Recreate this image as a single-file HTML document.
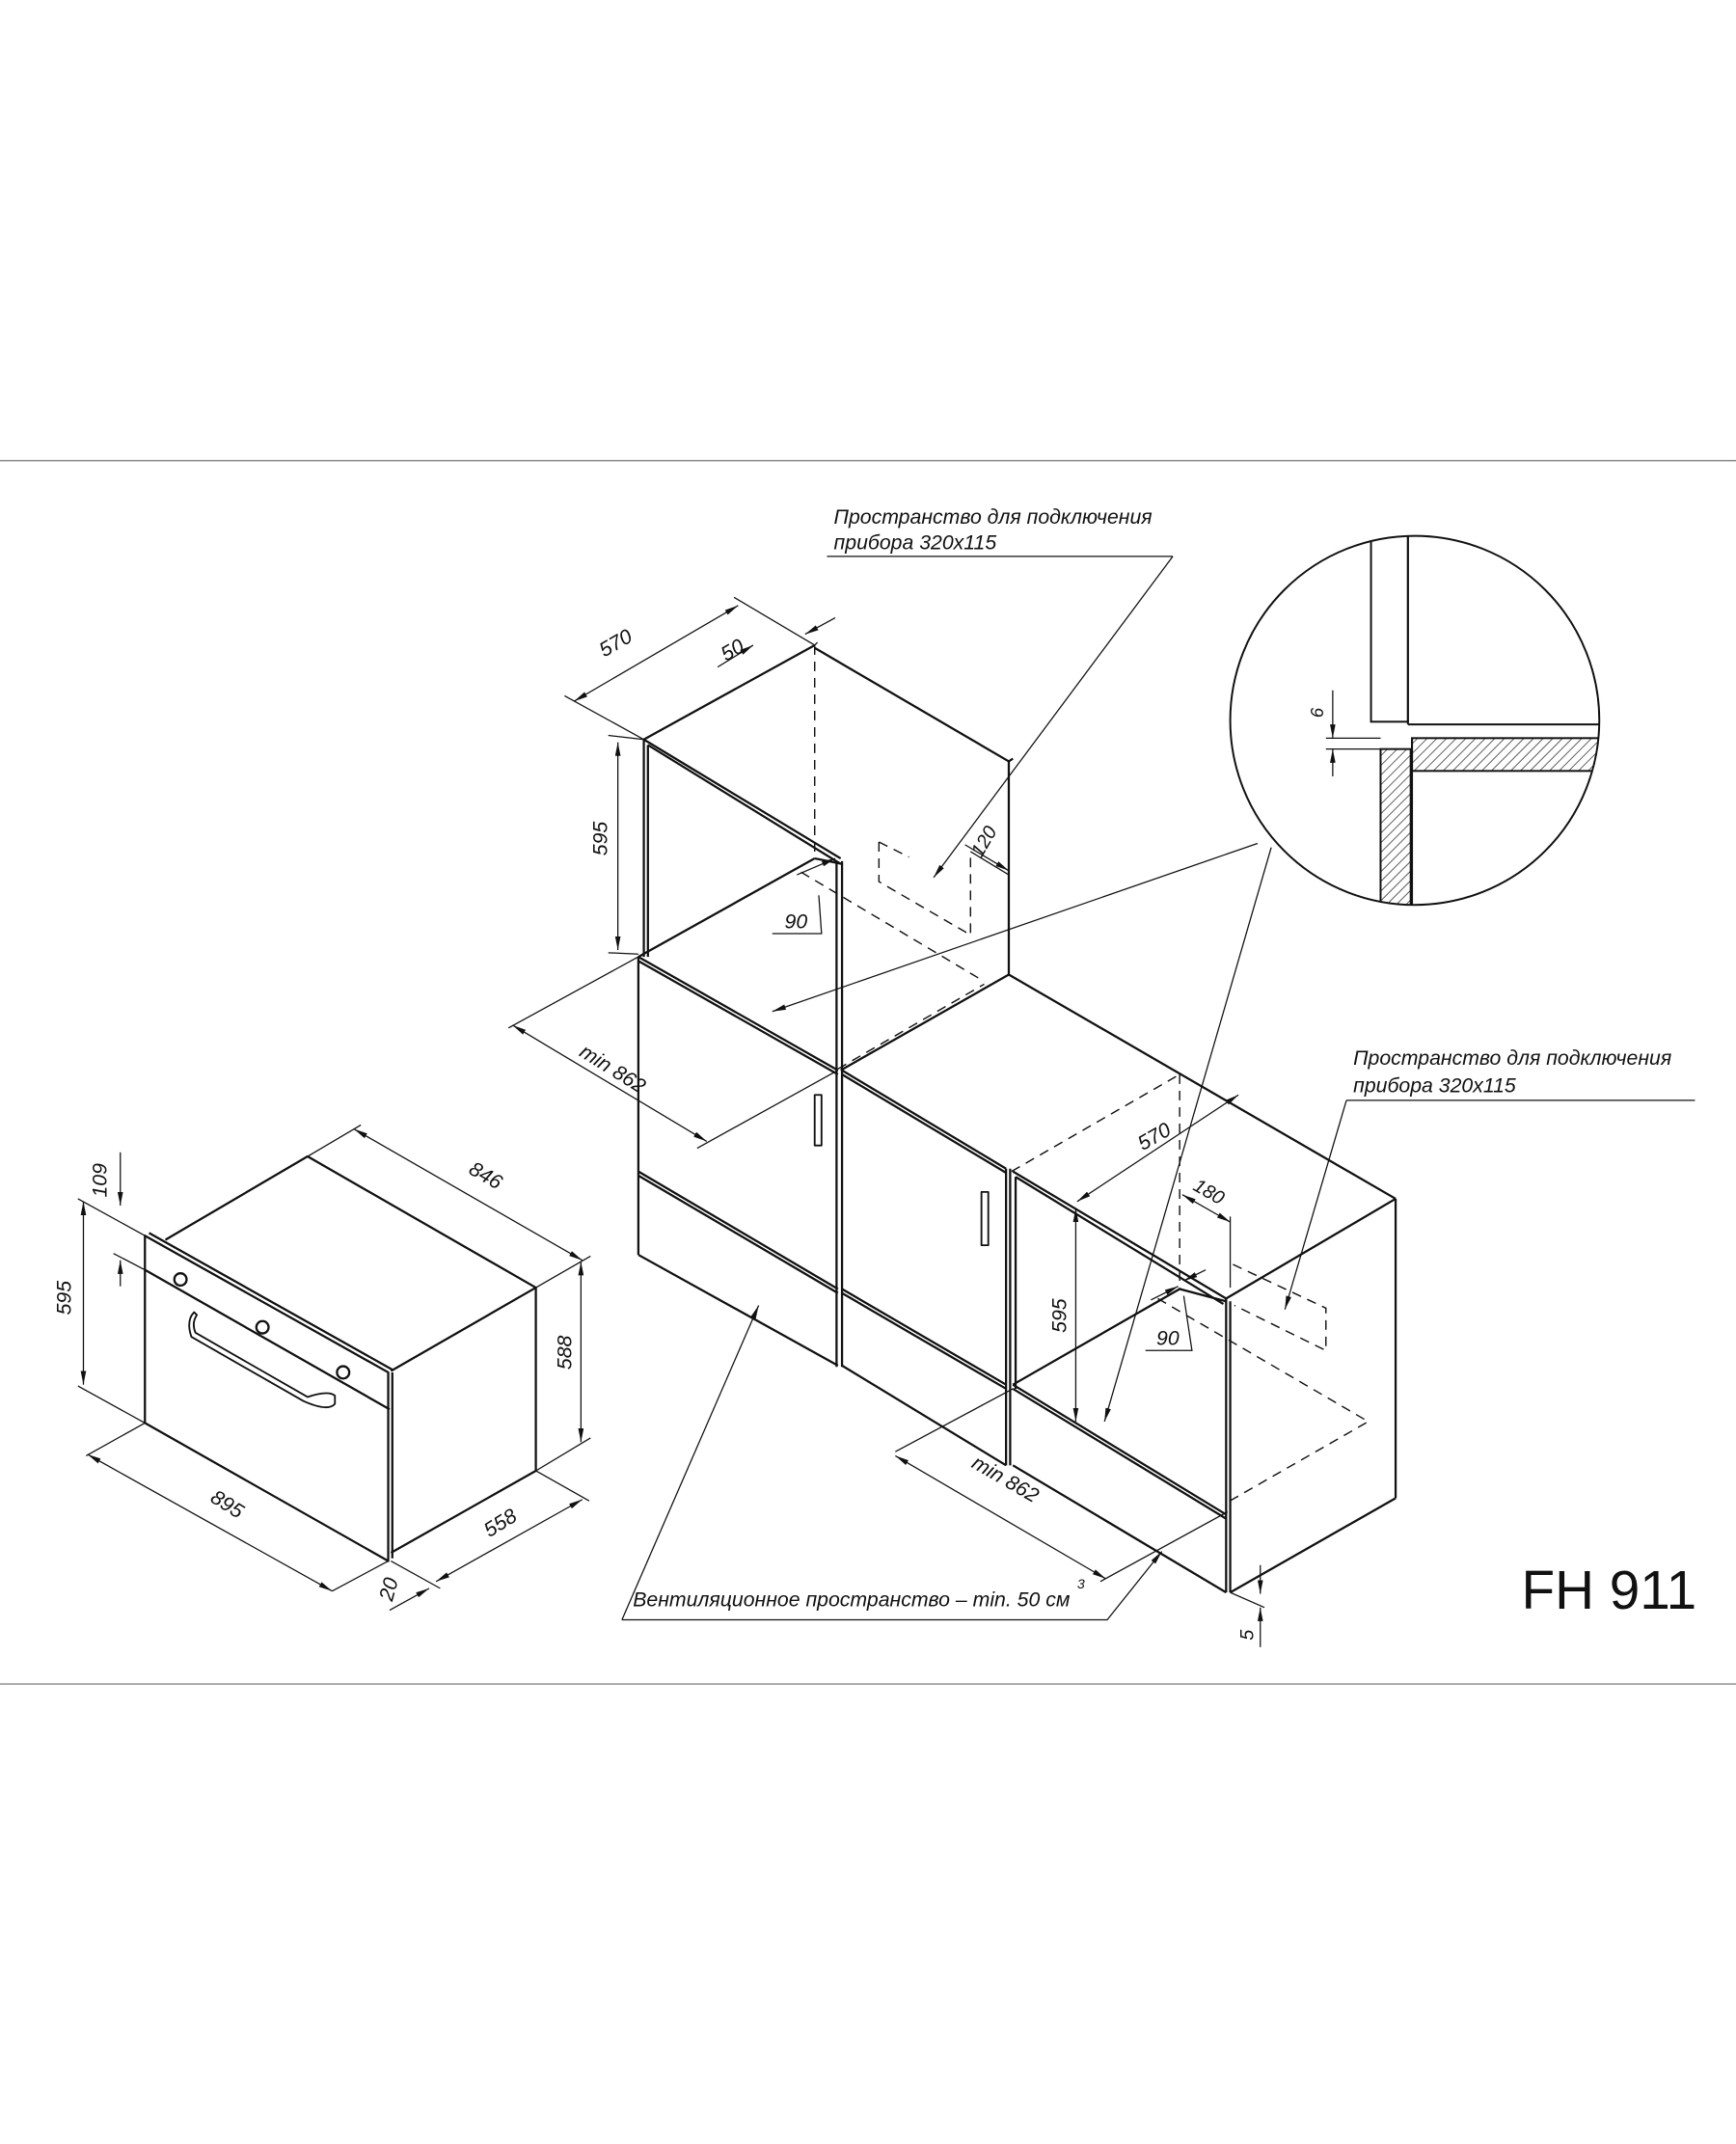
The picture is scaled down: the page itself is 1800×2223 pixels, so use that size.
<!DOCTYPE html>
<html><head><meta charset="utf-8"><style>
html,body{margin:0;padding:0;background:#fff}
svg{display:block}
text{font-family:"Liberation Sans Narrow","Liberation Sans",sans-serif;font-style:italic;fill:#111}
</style></head><body>
<svg width="1800" height="2223" viewBox="0 0 1270 1568.5" xmlns="http://www.w3.org/2000/svg">
<defs>
<marker id="a" viewBox="0 0 10 4" refX="10" refY="2" markerWidth="10" markerHeight="4" markerUnits="userSpaceOnUse" orient="auto-start-reverse"><path d="M0,0 L10,2 L0,4 z" fill="#111"/></marker>
<pattern id="h" width="5" height="5" patternUnits="userSpaceOnUse" patternTransform="rotate(45)"><line x1="0" y1="0" x2="0" y2="5" stroke="#222" stroke-width="1"/></pattern>
<clipPath id="cc"><circle cx="1035" cy="527" r="135"/></clipPath>
</defs>
<rect width="1270" height="1568.5" fill="#fff"/>
<line x1="0" y1="337" x2="1270" y2="337" stroke="#888" stroke-width="1"/>
<line x1="0" y1="1232" x2="1270" y2="1232" stroke="#888" stroke-width="1"/>

<!-- LEFT OVEN -->
<g fill="none" stroke="#111" stroke-width="1.6" stroke-linejoin="round">
<path d="M106,904 L106,1041 L284,1142 L284,1004 Z"/>
<line x1="109" y1="902" x2="287" y2="1002"/>
<line x1="287" y1="1004" x2="287" y2="1140"/>
<line x1="106" y1="929" x2="285" y2="1031"/>
<path d="M121,907 L225,846 L392,942 L286,1003"/>
<path d="M392,942 L392,1076 L286,1136"/>
<circle cx="132" cy="936" r="4.5"/><circle cx="192" cy="971" r="4.5"/><circle cx="251" cy="1004" r="4.5"/>
<path d="M142,960 Q136,966 140,978 L222,1025 Q240,1033 245,1027 L245,1021 Q240,1017 225,1022 L143,975 Q140,968 144,962 Z" stroke-width="1.3"/>
</g>
<g fill="none" stroke="#111" stroke-width="0.9">
<line x1="225" y1="846" x2="264" y2="823"/><line x1="392" y1="942" x2="432" y2="919"/>
<line x1="259" y1="826" x2="426" y2="922" marker-start="url(#a)" marker-end="url(#a)"/>
<line x1="392" y1="1076" x2="432" y2="1052"/>
<line x1="425" y1="923" x2="425" y2="1055" marker-start="url(#a)" marker-end="url(#a)"/>
<line x1="392" y1="1076" x2="431" y2="1098"/><line x1="286" y1="1142" x2="322" y2="1162"/>
<line x1="319" y1="1157" x2="426" y2="1097" marker-start="url(#a)" marker-end="url(#a)"/>
<line x1="285" y1="1178" x2="314" y2="1162" marker-end="url(#a)"/>
<line x1="106" y1="1041" x2="63" y2="1065"/><line x1="284" y1="1142" x2="243" y2="1164"/>
<line x1="64" y1="1064" x2="243" y2="1164" marker-start="url(#a)" marker-end="url(#a)"/>
<line x1="57" y1="877" x2="106" y2="904"/><line x1="57" y1="1014" x2="106" y2="1041"/>
<line x1="61" y1="879" x2="61" y2="1013" marker-start="url(#a)" marker-end="url(#a)"/>
<line x1="83" y1="917" x2="106" y2="929"/>
<line x1="88" y1="843" x2="88" y2="882" marker-end="url(#a)"/>
<line x1="88" y1="941" x2="88" y2="922" marker-end="url(#a)"/>
</g>
<text x="0" y="0" font-size="15" transform="translate(342,858) rotate(30)">846</text>
<text x="0" y="0" font-size="15" transform="translate(418,1002) rotate(-90)">588</text>
<text x="0" y="0" font-size="15" transform="translate(358,1125) rotate(-32)">558</text>
<text x="0" y="0" font-size="15" transform="translate(287,1172) rotate(-75)">20</text>
<text x="0" y="0" font-size="15" transform="translate(153,1098) rotate(32)">895</text>
<text x="0" y="0" font-size="15" transform="translate(52,962) rotate(-90)">595</text>
<text x="0" y="0" font-size="15" transform="translate(78,876) rotate(-90)">109</text>

<!-- CABINETS -->
<g fill="none" stroke="#111" stroke-width="1.6" stroke-linejoin="round">
<!-- upper box -->
<path d="M471,541 L596,472"/>
<path d="M596,474 L738,557 L741,555"/>
<line x1="738" y1="557" x2="738" y2="713"/>
<line x1="471" y1="541" x2="615" y2="628"/><line x1="474" y1="545" x2="615" y2="632"/>
<line x1="471" y1="541" x2="471" y2="700"/><line x1="474" y1="545" x2="474" y2="700"/>
<line x1="612" y1="630" x2="612" y2="1000"/><line x1="616" y1="630" x2="616" y2="1000"/>
<line x1="467" y1="700" x2="596" y2="628"/>
<line x1="596" y1="628" x2="616" y2="632"/>
<line x1="615" y1="783" x2="738" y2="713"/>
<line x1="738" y1="713" x2="1021" y2="877"/>
<!-- lower left cabinet -->
<line x1="467" y1="700" x2="613" y2="783"/><line x1="467" y1="703" x2="613" y2="786"/>
<line x1="467" y1="700" x2="467" y2="918"/>
<line x1="467" y1="857" x2="613" y2="943"/><line x1="467" y1="860" x2="613" y2="946"/>
<line x1="467" y1="918" x2="613" y2="999"/>
<rect x="596" y="801" width="5" height="37" stroke-width="1.3"/>
<!-- middle cabinet -->
<line x1="616" y1="783" x2="736" y2="855"/><line x1="616" y1="786" x2="736" y2="858"/>
<line x1="616" y1="943" x2="736" y2="1013"/><line x1="616" y1="946" x2="736" y2="1016"/>
<line x1="616" y1="999" x2="736" y2="1072"/>
<line x1="736" y1="855" x2="736" y2="1072"/><line x1="739" y1="855" x2="739" y2="1072"/>
<rect x="718" y="872" width="5" height="39" stroke-width="1.3"/>
<!-- right cabinet -->
<line x1="741" y1="857" x2="897" y2="950"/><line x1="743" y1="861" x2="895" y2="954"/>
<line x1="743" y1="861" x2="743" y2="1016"/>
<line x1="741" y1="1013" x2="897" y2="1108"/><line x1="741" y1="1016" x2="897" y2="1111"/>
<line x1="741" y1="1072" x2="897" y2="1165"/>
<line x1="741" y1="1013" x2="863" y2="943"/>
<line x1="863" y1="943" x2="897" y2="952"/>
<line x1="897" y1="950" x2="897" y2="1165"/><line x1="900" y1="952" x2="900" y2="1165"/>
<line x1="897" y1="950" x2="1021" y2="877"/>
<line x1="1021" y1="877" x2="1021" y2="1096"/>
<line x1="900" y1="1165" x2="1021" y2="1096"/>
</g>
<g fill="none" stroke="#111" stroke-width="1" stroke-dasharray="7,5">
<line x1="596" y1="472" x2="596" y2="628"/>
<line x1="586" y1="638" x2="720" y2="718"/>
<line x1="613" y1="782" x2="720" y2="720"/>
<path d="M643,616 L643,645 L710,684 L710,623"/>
<line x1="643" y1="616" x2="665" y2="627"/>
<line x1="740" y1="857" x2="863" y2="786"/>
<line x1="863" y1="786" x2="863" y2="943"/>
<path d="M847,950 L1001,1040 L898,1099"/>
<path d="M902,925 L970,957 L970,988 L903,955"/>
</g>
<!-- cabinet dims -->
<g fill="none" stroke="#111" stroke-width="0.9">
<line x1="471" y1="541" x2="445" y2="538"/><line x1="467" y1="698" x2="445" y2="697"/>
<line x1="452" y1="543" x2="452" y2="695" marker-start="url(#a)" marker-end="url(#a)"/>
<line x1="471" y1="541" x2="413" y2="509"/>
<line x1="596" y1="472" x2="537" y2="437"/>
<line x1="420" y1="513" x2="540" y2="443" marker-start="url(#a)" marker-end="url(#a)"/>
<line x1="596" y1="472" x2="598" y2="470"/>
<line x1="525" y1="488" x2="551" y2="472" marker-end="url(#a)"/>
<line x1="611" y1="452" x2="589" y2="464" marker-end="url(#a)"/>
<line x1="710" y1="623" x2="738" y2="640" />
<line x1="706" y1="618" x2="738" y2="637" marker-end="url(#a)"/>
<line x1="583" y1="640" x2="611" y2="628" marker-end="url(#a)"/>
<path d="M565,683 L601,683 L599,655"/>
<line x1="375" y1="750" x2="517" y2="835" marker-start="url(#a)" marker-end="url(#a)"/>
<line x1="510" y1="840" x2="613" y2="783"/>
<line x1="467" y1="700" x2="372" y2="752"/>
<line x1="788" y1="879" x2="906" y2="801" marker-start="url(#a)" marker-end="url(#a)"/>
<line x1="865" y1="874" x2="900" y2="894" marker-start="url(#a)" marker-end="url(#a)"/>
<line x1="900" y1="890" x2="900" y2="942"/>
<line x1="787" y1="884" x2="787" y2="1040" marker-start="url(#a)" marker-end="url(#a)"/>
<line x1="842" y1="951" x2="862" y2="941" marker-end="url(#a)"/>
<line x1="882" y1="929" x2="866" y2="937" marker-end="url(#a)"/>
<path d="M838,988 L872,988 L866,948"/>
<line x1="655" y1="1065" x2="809" y2="1155" marker-start="url(#a)" marker-end="url(#a)"/>
<line x1="805" y1="1157" x2="898" y2="1106"/>
<line x1="741" y1="1016" x2="655" y2="1062"/>
<line x1="900" y1="1165" x2="925" y2="1176"/>
<line x1="922" y1="1145" x2="922" y2="1166" marker-end="url(#a)"/>
<line x1="922" y1="1205" x2="922" y2="1176" marker-end="url(#a)"/>
<!-- leaders -->
<line x1="605" y1="407" x2="858" y2="407"/>
<line x1="858" y1="407" x2="683" y2="642" marker-end="url(#a)"/>
<line x1="985" y1="805" x2="1240" y2="805"/>
<line x1="985" y1="805" x2="940" y2="958" marker-end="url(#a)"/>
<line x1="920" y1="617" x2="565" y2="740" marker-end="url(#a)"/>
<line x1="930" y1="620" x2="808" y2="1040" marker-end="url(#a)"/>
<path d="M455,1185 L810,1185 L850,1135" marker-end="url(#a)"/>
<line x1="455" y1="1185" x2="555" y2="955" marker-end="url(#a)"/>
</g>
<text x="0" y="0" font-size="15" transform="translate(442,481) rotate(-30)">570</text>
<text x="0" y="0" font-size="15" transform="translate(531,484) rotate(-30)">50</text>
<text x="0" y="0" font-size="15" transform="translate(444,626) rotate(-90)">595</text>
<text x="0" y="0" font-size="14" transform="translate(718,628) rotate(-60)">120</text>
<text x="574" y="679" font-size="15">90</text>
<text x="0" y="0" font-size="15" transform="translate(423,772) rotate(32)">min 862</text>
<text x="0" y="0" font-size="15" transform="translate(836,842) rotate(-30)">570</text>
<text x="0" y="0" font-size="14" transform="translate(872,870) rotate(30)">180</text>
<text x="0" y="0" font-size="15" transform="translate(780,975) rotate(-90)">595</text>
<text x="846" y="984" font-size="15">90</text>
<text x="0" y="0" font-size="15" transform="translate(710,1073) rotate(30)">min 862</text>
<text x="0" y="0" font-size="14" transform="translate(917,1200) rotate(-90)">5</text>
<text x="610" y="383" font-size="15">Пространство для подключения</text>
<text x="610" y="402" font-size="15">прибора 320х115</text>
<text x="990" y="779" font-size="15">Пространство для подключения</text>
<text x="990" y="799" font-size="15">прибора 320х115</text>
<text x="463" y="1175" font-size="15">Вентиляционное пространство – min. 50 см</text>
<text x="788" y="1162" font-size="10">3</text>
<text x="1113" y="1177" font-size="40" style="font-family:'Liberation Sans',sans-serif;font-style:normal">FH 911</text>

<!-- DETAIL CIRCLE -->
<g clip-path="url(#cc)" fill="none" stroke="#111" stroke-width="1.4">
<rect x="1003" y="380" width="27" height="148"/>
<line x1="1030" y1="380" x2="1030" y2="530"/>
<line x1="1030" y1="530" x2="1180" y2="530"/>
<rect x="1033" y="540" width="140" height="24" fill="url(#h)"/>
<rect x="1010" y="548" width="22" height="130" fill="url(#h)"/>
<line x1="1033" y1="540" x2="1033" y2="680"/>
</g>
<circle cx="1035" cy="527" r="135" fill="none" stroke="#111" stroke-width="1.4"/>
<g fill="none" stroke="#111" stroke-width="0.9">
<line x1="970" y1="540" x2="1010" y2="540"/><line x1="970" y1="548" x2="1010" y2="548"/>
<line x1="975" y1="505" x2="975" y2="540" marker-end="url(#a)"/>
<line x1="975" y1="568" x2="975" y2="548" marker-end="url(#a)"/>
</g>
<text x="0" y="0" font-size="13" transform="translate(968,525) rotate(-90)">6</text>
</svg>
</body></html>
